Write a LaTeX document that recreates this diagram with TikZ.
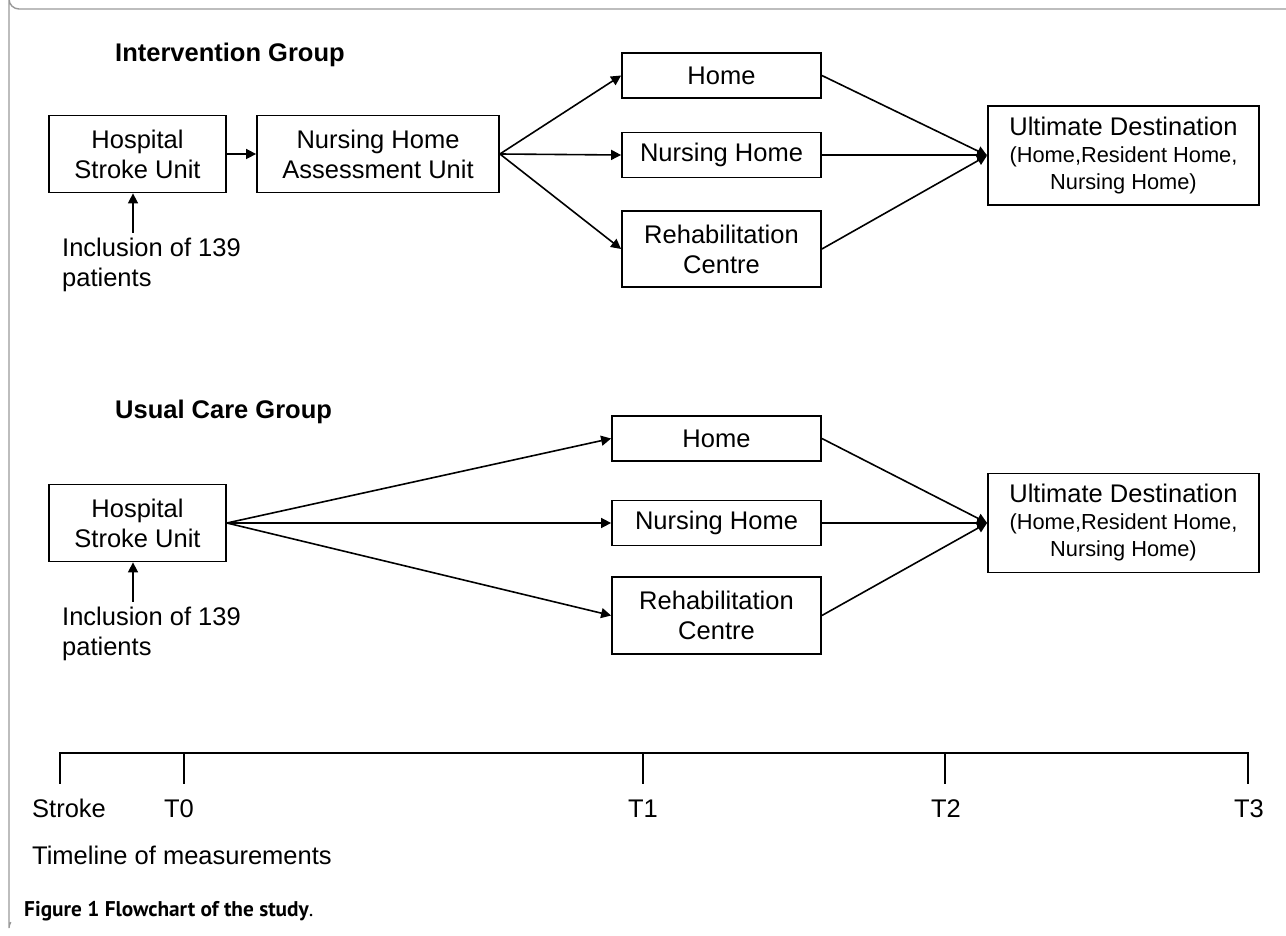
\documentclass[tikz,border=0pt]{standalone}
\usepackage{fontspec}
\setmainfont{Liberation Sans}
\newfontfamily\capfont{PT Sans}
\usetikzlibrary{arrows.meta}
\begin{document}
\begin{tikzpicture}[x=1pt,y=-1pt,
  box/.style={draw=black,line width=1.8pt,rectangle,inner sep=0pt,align=center,
    font=\fontsize{25.5}{30}\selectfont},
  lbl/.style={inner sep=0pt,font=\fontsize{25.5}{30}\selectfont},
  ttl/.style={inner sep=0pt,font=\fontsize{25.5}{30}\selectfont\bfseries},
  arr/.style={line width=1.6pt,-{Triangle[length=10pt,width=10pt]}},
  ln/.style={line width=1.6pt},
  frame/.style={draw=black!40,line width=1.4pt}
]
\useasboundingbox (0,0) rectangle (1286,936);
% frame
\draw[frame] (1286,9) -- (19,9) arc[start angle=90,end angle=180,radius=10] -- (9,928) arc[start angle=180,end angle=215,radius=10];

% ---------- Intervention group ----------
\node[ttl,anchor=west] (tg1) at (115,55) {Intervention Group};
\node[box,minimum width=177pt,minimum height=77pt] (hsu1) at (137.5,154) {Hospital\\Stroke Unit};
\node[box,minimum width=242pt,minimum height=77pt] (nha) at (378,154) {Nursing Home\\Assessment Unit};
\node[box,minimum width=199pt,minimum height=45pt] (home1) at (721.5,75.5) {Home};
\node[box,minimum width=199pt,minimum height=45pt] (nh1) at (721.5,155) {Nursing Home};
\node[box,minimum width=199pt,minimum height=76pt] (rc1) at (721.5,249) {Rehabilitation\\Centre};
\node[box,minimum width=271pt,minimum height=99pt] (ud1) at (1123.5,155.5)
  {Ultimate Destination\\[-3pt]{\fontsize{21.8}{27}\selectfont (Home,Resident Home,}\\[-3pt]{\fontsize{21.8}{27}\selectfont Nursing Home)}};
\node[lbl,anchor=north west,align=left] (inc1) at (62,238) {Inclusion of 139\\patients};
\coordinate (a1) at (133,233);

\draw[arr] (hsu1.east) -- (nha.west);
\draw[arr] (a1) -- (a1 |- hsu1.south);
\draw[arr] (nha.east) -- (home1.west);
\draw[arr] (nha.east) -- (nh1.west);
\draw[arr] (nha.east) -- (rc1.west);
\draw[arr] (home1.east) -- (ud1.west);
\draw[arr] (nh1.east) -- (nh1.east -| ud1.west);
\draw[arr] (rc1.east) -- (ud1.west);

% ---------- Usual care group ----------
\node[ttl,anchor=west] (tg2) at (115,412) {Usual Care Group};
\node[box,minimum width=177pt,minimum height=77pt] (hsu2) at (137.5,523) {Hospital\\Stroke Unit};
\node[box,minimum width=209pt,minimum height=45pt] (home2) at (716.5,438.5) {Home};
\node[box,minimum width=209pt,minimum height=45pt] (nh2) at (716.5,523) {Nursing Home};
\node[box,minimum width=209pt,minimum height=77pt] (rc2) at (716.5,615.5) {Rehabilitation\\Centre};
\node[box,minimum width=271pt,minimum height=99pt] (ud2) at (1123.5,523)
  {Ultimate Destination\\[-3pt]{\fontsize{21.8}{27}\selectfont (Home,Resident Home,}\\[-3pt]{\fontsize{21.8}{27}\selectfont Nursing Home)}};
\node[lbl,anchor=north west,align=left] (inc2) at (62,607) {Inclusion of 139\\patients};
\coordinate (a2) at (133,602);

\draw[arr] (a2) -- (a2 |- hsu2.south);
\draw[arr] (hsu2.east) -- (home2.west);
\draw[arr] (hsu2.east) -- (nh2.west);
\draw[arr] (hsu2.east) -- (rc2.west);
\draw[arr] (home2.east) -- (ud2.west);
\draw[arr] (nh2.east) -- (ud2.west);
\draw[arr] (rc2.east) -- (ud2.west);

% ---------- Timeline ----------
\coordinate (ts) at (60,753);
\coordinate (t0) at (184,753);
\coordinate (t1) at (643,753);
\coordinate (t2) at (945,753);
\coordinate (t3) at (1248,753);
\draw[ln,line cap=rect] (ts) -- (t3);
\foreach \c in {ts,t0,t1,t2,t3} \draw[ln] (\c) -- ++(0,31);
\node[lbl,anchor=base west] (lstroke) at (32,817) {Stroke};
\node[lbl,anchor=base] (lt0) at (179,817) {T0};
\node[lbl,anchor=base] (lt1) at (643,817) {T1};
\node[lbl,anchor=base] (lt2) at (946,817) {T2};
\node[lbl,anchor=base] (lt3) at (1249,817) {T3};
\node[lbl,anchor=base west] (ltl) at (32,864) {Timeline of measurements};

% caption
\node[inner sep=0pt,anchor=west,font=\capfont\fontsize{21.3}{25}\selectfont] (cap) at (24,911)
  {\textbf{Figure 1 Flowchart of the study}.};
\end{tikzpicture}
\end{document}
